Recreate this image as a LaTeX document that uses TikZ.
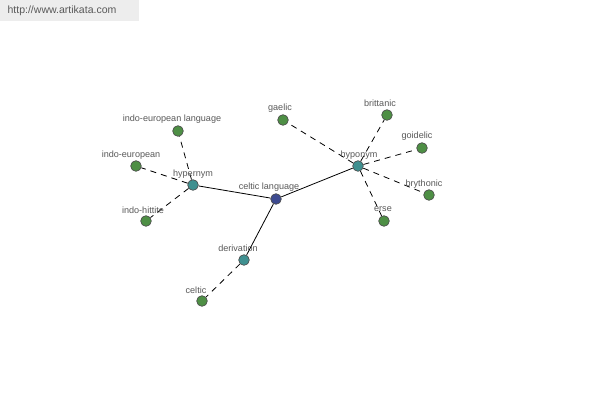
\documentclass[tikz,border=0pt]{standalone}
\usepackage{fontspec}
\setmainfont{Liberation Sans}
\begin{document}
\begin{tikzpicture}[x=0.75pt,y=-0.75pt,
  vtx/.style={circle,draw=black!70,line width=0.5pt,minimum size=8pt,inner sep=0pt},
  leaf/.style={vtx,fill=leafgreen},
  hub/.style={vtx,fill=hubteal},
  root/.style={vtx,fill=rootblue},
  lbl/.style={font=\fontsize{6.8pt}{8pt}\selectfont,text=black!65,inner sep=0pt},
  rel/.style={draw=black,line width=0.6pt},
  weak/.style={draw=black,line width=0.6pt,dash pattern=on 4.5pt off 3.8pt}]
\definecolor{leafgreen}{HTML}{4E8F45}
\definecolor{hubteal}{HTML}{3F9090}
\definecolor{rootblue}{HTML}{3D4A90}
\useasboundingbox (0,0) rectangle (600,400);
\fill[white] (0,0) rectangle (600,400);
\node[fill=black!7,minimum width=104.25pt,minimum height=15.75pt,anchor=north west,inner sep=0pt] (hdr) at (0,0) {};
\node[font=\fontsize{7.9pt}{9pt}\selectfont,text=black!65,inner sep=0pt] (url) at (62,11) {http://www.artikata.com};
% vertices
\node[root] (cl) at (276,199) {};
\node[hub] (hyper) at (193,185) {};
\node[hub] (hypo) at (358,166) {};
\node[hub] (der) at (244,260) {};
\node[leaf] (iel) at (178,131) {};
\node[leaf] (ie) at (136,166) {};
\node[leaf] (ih) at (146,221) {};
\node[leaf] (gae) at (283,120) {};
\node[leaf] (bri) at (387,115) {};
\node[leaf] (goi) at (422,148) {};
\node[leaf] (bry) at (429,195) {};
\node[leaf] (ers) at (384,221) {};
\node[leaf] (cel) at (202,301) {};
% edges
\draw[rel] (cl) -- (hyper);
\draw[rel] (cl) -- (hypo);
\draw[rel] (cl) -- (der);
\draw[weak] (hyper) -- (iel);
\draw[weak] (hyper) -- (ie);
\draw[weak] (hyper) -- (ih);
\draw[weak] (hypo) -- (gae);
\draw[weak] (hypo) -- (bri);
\draw[weak] (hypo) -- (goi);
\draw[weak] (hypo) -- (bry);
\draw[weak] (hypo) -- (ers);
\draw[weak] (der) -- (cel);
% labels
\node[lbl] (lcl) at (269,187) {celtic language};
\node[lbl] (lhyper) at (193,174) {hypernym};
\node[lbl] (lhypo) at (359,155) {hyponym};
\node[lbl] (lder) at (238,248) {derivation};
\node[lbl] (liel) at (172,119) {indo-european language};
\node[lbl] (lie) at (131,155) {indo-european};
\node[lbl] (lih) at (143,210) {indo-hittite};
\node[lbl] (lgae) at (280,108) {gaelic};
\node[lbl] (lbri) at (380,103) {brittanic};
\node[lbl] (lgoi) at (417,136) {goidelic};
\node[lbl] (lbry) at (424,184) {brythonic};
\node[lbl] (lers) at (383,209) {erse};
\node[lbl] (lcel) at (196,290) {celtic};
\end{tikzpicture}
\end{document}
